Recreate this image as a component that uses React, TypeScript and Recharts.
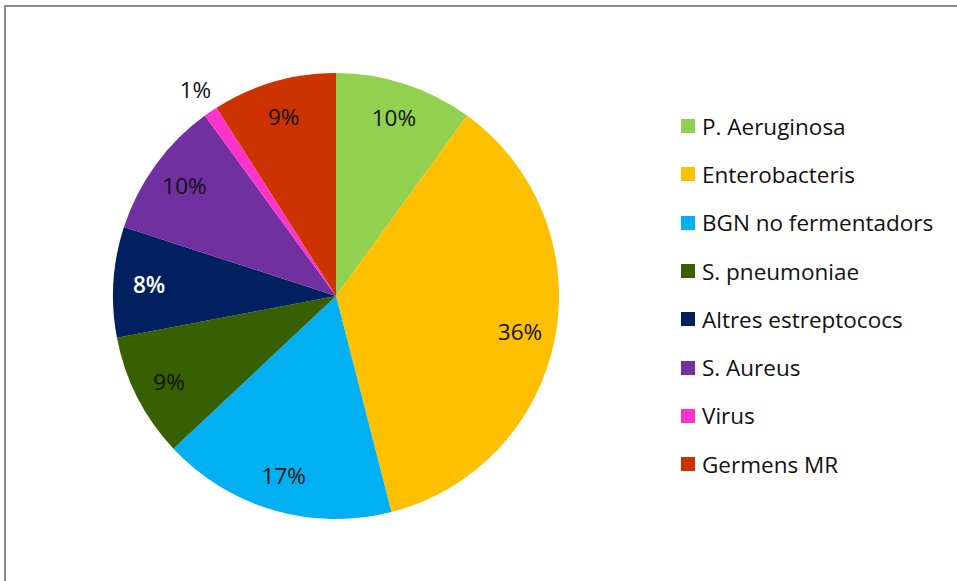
import React from "react";
import { PieChart, Pie, Cell, Legend } from "recharts";

const categories = [
  "P. Aeruginosa",
  "Enterobacteris",
  "BGN no fermentadors",
  "S. pneumoniae",
  "Altres estreptococs",
  "S. Aureus",
  "Virus",
  "Germens MR",
];
const values = [10, 36, 17, 9, 8, 10, 1, 9];
const colors = [
  "#92D050",
  "#FFC000",
  "#00B0F0",
  "#376000",
  "#002060",
  "#7030A0",
  "#FF33CC",
  "#CC3300",
];
const labelColors = ["#111", "#111", "#111", "#111", "#fff", "#111", "#111", "#111"];

const data = categories.map((name, i) => ({ name, value: values[i] }));

const FONT = "'Open Sans', sans-serif";
const RAD = Math.PI / 180;

const renderLabel = (props: any) => {
  const { cx, cy, midAngle, outerRadius, percent, index } = props;
  const r = percent < 0.03 ? outerRadius + 27 : outerRadius * 0.84;
  const x = cx + r * Math.cos(-midAngle * RAD);
  const y = cy + r * Math.sin(-midAngle * RAD);
  return (
    <text
      x={x}
      y={y}
      fill={labelColors[index]}
      textAnchor="middle"
      dominantBaseline="central"
      fontFamily={FONT}
      fontSize={22.5}
      fontWeight={labelColors[index] === "#fff" ? 600 : 400}
    >
      {`${Math.round(percent * 100)}%`}
    </text>
  );
};

const renderLegend = () => (
  <div style={{ fontFamily: FONT, fontSize: 22.5, color: "#111" }}>
    {categories.map((c, i) => (
      <div key={c} style={{ height: 48.3, display: "flex", alignItems: "center" }}>
        <span
          style={{
            display: "inline-block",
            width: 14,
            height: 14,
            background: colors[i],
            marginRight: 7,
          }}
        />
        <span>{c}</span>
      </div>
    ))}
  </div>
);

export default function App() {
  return (
    <div
      style={{
        position: "absolute",
        left: 0,
        top: 0,
        width: 957,
        height: 581,
        overflow: "hidden",
        background: "#fff",
      }}
    >
      <div
        style={{
          position: "absolute",
          left: 4,
          top: 5,
          width: 1000,
          height: 1000,
          border: "2px solid #8a8a8a",
          boxSizing: "border-box",
        }}
      />
      <PieChart
        width={957}
        height={581}
        margin={{ top: 0, right: 0, bottom: 0, left: 0 }}
        style={{ position: "absolute", left: 0, top: 0 }}
      >
        <Pie
          data={data}
          dataKey="value"
          nameKey="name"
          cx={336}
          cy={296}
          outerRadius={223}
          startAngle={90}
          endAngle={-270}
          stroke="none"
          label={renderLabel}
          labelLine={false}
          isAnimationActive={false}
        >
          {data.map((d, i) => (
            <Cell key={d.name} fill={colors[i]} />
          ))}
        </Pie>
        <Legend
          content={renderLegend}
          wrapperStyle={{ position: "absolute", left: 681, top: 102, width: 275 }}
        />
      </PieChart>
    </div>
  );
}
